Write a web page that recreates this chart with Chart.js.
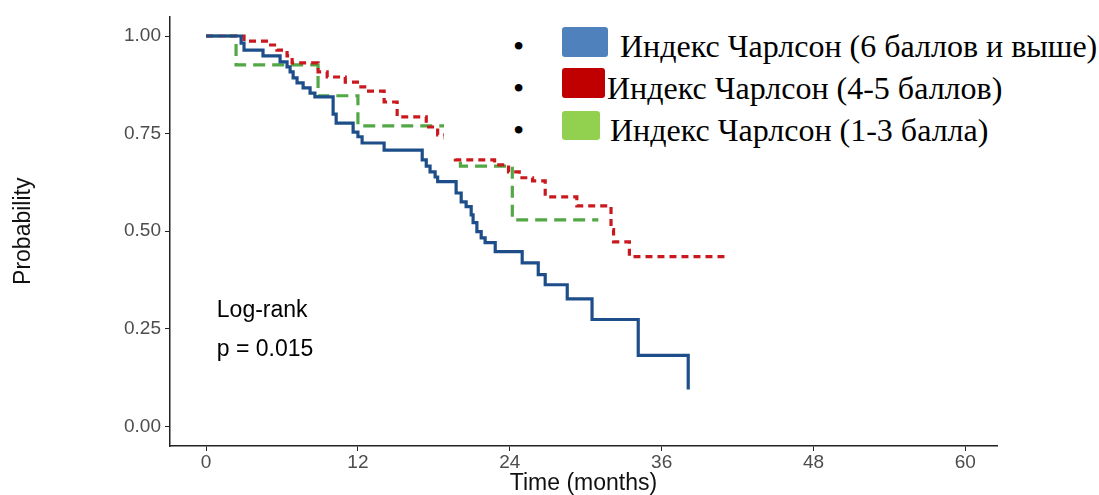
<!DOCTYPE html>
<html>
<head>
<meta charset="utf-8">
<script src="https://cdn.jsdelivr.net/npm/chart.js@4.4.1/dist/chart.umd.min.js"></script>
<style>
html,body{margin:0;padding:0;background:#fff;}
#wrap{position:relative;width:1099px;height:495px;overflow:hidden;background:#fff;}
#c{position:absolute;left:0;top:0;}
#legend{position:absolute;left:444px;top:0;width:655px;height:157px;background:#fff;
  font-family:"Liberation Serif","Times New Roman",serif;font-size:32px;color:#000;}
#legend span{position:absolute;line-height:1;white-space:nowrap;}
#legend .sq{position:absolute;border-radius:3px;}
</style>
</head>
<body>
<div id="wrap">
<canvas id="c" width="1099" height="495"></canvas>
<div id="legend"></div>
</div>
<script>
// ---- data ----
const groupLabels = [
  'Индекс Чарлсон (6 баллов и выше)',
  'Индекс Чарлсон (4-5 баллов)',
  'Индекс Чарлсон (1-3 балла)'
];
const blueTime = [0, 2.77, 3.0, 4.5, 5.85, 6.4, 6.64, 6.88, 7.19, 7.67, 8.22, 8.6, 10.04, 10.28, 11.62, 12.0, 12.33, 14.07, 17.08, 17.4, 17.7, 18.1, 18.3, 19.76, 20.16, 20.55, 20.95, 21.1, 21.4, 21.74, 22.05, 22.85, 24.98, 26.25, 26.8, 28.54, 30.5, 34.15, 38.1];
const blueSurv = [1, 0.982, 0.964, 0.949, 0.934, 0.921, 0.908, 0.893, 0.88, 0.867, 0.854, 0.844, 0.80, 0.777, 0.754, 0.742, 0.726, 0.708, 0.683, 0.667, 0.652, 0.639, 0.627, 0.598, 0.575, 0.563, 0.542, 0.522, 0.499, 0.483, 0.471, 0.448, 0.419, 0.389, 0.363, 0.327, 0.274, 0.182, 0.095];
const redTime = [0, 3.0, 4.9, 5.6, 6.4, 6.8, 8.85, 9.57, 11.0, 12.1, 12.7, 14.07, 15.1, 17.4, 18.3, 18.9, 19.3, 19.7, 22.8, 23.9, 24.75, 25.8, 26.8, 29.3, 32.0, 32.2, 33.45, 41.0];
const redSurv = [1, 0.987, 0.977, 0.964, 0.949, 0.931, 0.908, 0.895, 0.882, 0.87, 0.859, 0.831, 0.793, 0.767, 0.747, 0.729, 0.708, 0.683, 0.670, 0.652, 0.637, 0.629, 0.588, 0.565, 0.504, 0.473, 0.435, 0.435];
const greenTime = [0, 2.37, 8.85, 12.0, 20.1, 24.2, 31.0];
const greenSurv = [1, 0.926, 0.847, 0.770, 0.667, 0.529, 0.529];
const xTickValues = [0, 12, 24, 36, 48, 60];
const yTickValues = [0, 0.25, 0.5, 0.75, 1.0];
const annotText = ['Log-rank', 'p = 0.015'];

// ---- styles ----
const lineColors = ['#1d4e89', '#c9181e', '#52a845'];
const legendColors = ['#4f81bd', '#c00000', '#92d050'];
const sansFont = '"Liberation Sans", Arial, sans-serif';

function toPts(t, s) { return t.map((v, i) => ({x: v, y: s[i]})); }

const annotPlugin = {
  id: 'annot',
  afterDatasetsDraw(chart) {
    const {ctx, scales: {x, y}} = chart;
    ctx.save();
    ctx.font = '23px ' + sansFont;
    ctx.fillStyle = '#000';
    ctx.textBaseline = 'middle';
    ctx.textAlign = 'left';
    ctx.fillText(annotText[0], x.getPixelForValue(0.85), y.getPixelForValue(0.297));
    ctx.fillText(annotText[1], x.getPixelForValue(0.85), y.getPixelForValue(0.197));
    ctx.restore();
  }
};

new Chart(document.getElementById('c'), {
  type: 'line',
  data: {
    datasets: [
      {label: groupLabels[0], data: toPts(blueTime, blueSurv), borderColor: lineColors[0], borderWidth: 3.2, stepped: true, pointRadius: 0, fill: false},
      {label: groupLabels[1], data: toPts(redTime, redSurv), borderColor: lineColors[1], borderWidth: 3.2, borderDash: [7, 5], stepped: true, pointRadius: 0, fill: false},
      {label: groupLabels[2], data: toPts(greenTime, greenSurv), borderColor: lineColors[2], borderWidth: 3.2, borderDash: [12, 7], stepped: true, pointRadius: 0, fill: false}
    ]
  },
  options: {
    responsive: false,
    animation: false,
    layout: {padding: {left: 0, right: 102, top: 16.5, bottom: 0}},
    plugins: {legend: {display: false}, tooltip: {enabled: false}},
    scales: {
      x: {
        type: 'linear', min: -2.85, max: 62.5,
        afterBuildTicks: s => { s.ticks = xTickValues.map(v => ({value: v})); },
        afterFit: s => { s.height = 49; },
        grid: {display: true, drawOnChartArea: false, drawTicks: true, tickLength: 5, color: '#222', lineWidth: 1},
        border: {display: true, color: '#222', width: 1.5},
        ticks: {font: {family: sansFont, size: 19}, color: '#4d4d4d', padding: 0, maxRotation: 0, autoSkip: false,
                callback: v => String(v)},
        title: {display: true, text: 'Time (months)', color: '#111', font: {family: sansFont, size: 23, lineHeight: 1}, padding: {top: 0, bottom: 0}}
      },
      y: {
        type: 'linear', min: -0.05, max: 1.05,
        afterBuildTicks: s => { s.ticks = yTickValues.map(v => ({value: v})); },
        afterFit: s => { s.width = 170; },
        grid: {display: true, drawOnChartArea: false, drawTicks: true, tickLength: 5, color: '#222', lineWidth: 1},
        border: {display: true, color: '#222', width: 1.5},
        ticks: {font: {family: sansFont, size: 19}, color: '#4d4d4d', padding: 4, autoSkip: false,
                callback: v => Number(v).toFixed(2)},
        title: {display: true, text: 'Probability', color: '#111', font: {family: sansFont, size: 23, lineHeight: 1}, padding: {top: 12, bottom: 0}}
      }
    }
  },
  plugins: [annotPlugin]
});

// ---- legend overlay ----
const legend = document.getElementById('legend');
const rowBase = [57, 99, 141];
const sqBox = [[118, 27, 46, 30], [118, 68, 43, 30], [118, 111, 38, 29]];
const textLeft = [176, 163, 166];
groupLabels.forEach((lab, i) => {
  const b = document.createElement('span');
  b.textContent = '•';
  b.style.left = '69px';
  b.style.top = (rowBase[i] - 27) + 'px';
  legend.appendChild(b);
  const sq = document.createElement('div');
  sq.className = 'sq';
  sq.style.left = sqBox[i][0] + 'px';
  sq.style.top = sqBox[i][1] + 'px';
  sq.style.width = sqBox[i][2] + 'px';
  sq.style.height = sqBox[i][3] + 'px';
  sq.style.background = legendColors[i];
  legend.appendChild(sq);
  const t = document.createElement('span');
  t.textContent = lab;
  t.style.left = textLeft[i] + 'px';
  t.style.top = (rowBase[i] - 27) + 'px';
  legend.appendChild(t);
});
</script>
</body>
</html>
